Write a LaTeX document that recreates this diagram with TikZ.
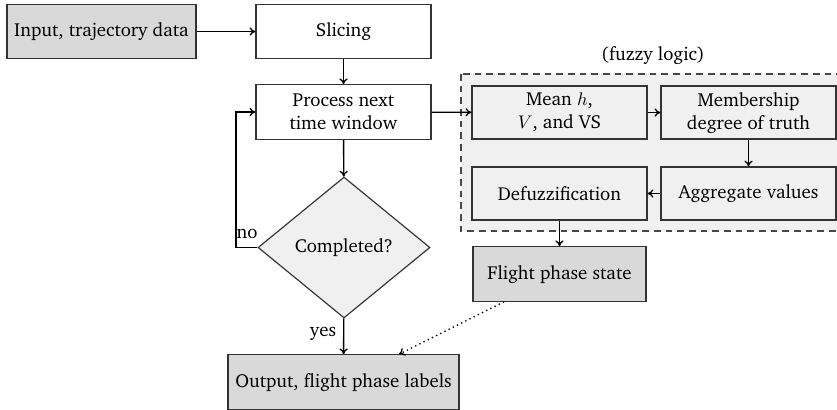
\documentclass[tikz,border=0pt]{standalone}
\usepackage[T1]{fontenc}
\usepackage{charter}
\usetikzlibrary{shapes.geometric,arrows.meta}
\definecolor{boxdark}{HTML}{D9D9D9}
\definecolor{boxlight}{HTML}{F0F0F0}
\definecolor{edgecol}{HTML}{333333}
\tikzset{
  base/.style={draw=edgecol, line width=0.7pt, align=center, inner sep=2pt, font=\fontsize{11.3}{13.8}\selectfont},
  plainbox/.style={base, fill=white, minimum width=105pt, minimum height=32.6pt},
  darkbox/.style={base, fill=boxdark, minimum height=32.6pt},
  fuzzbox/.style={base, fill=boxlight, minimum width=105pt, minimum height=31.8pt},
  decide/.style={base, shape=diamond, fill=boxlight, aspect=1.22, minimum width=103.2pt, minimum height=84.6pt, inner sep=0pt},
  conn/.style={line width=0.8pt, -{To[length=3.5pt,width=5pt]}},
  lbl/.style={font=\fontsize{11.3}{13.8}\selectfont, inner sep=0pt}
}
\begin{document}
\begin{tikzpicture}[x=0.6pt, y=-0.6pt]
\useasboundingbox (0,0) rectangle (837,409);
% fuzzy region
\draw[fill=boxlight, draw=edgecol!90, line width=0.7pt, dash pattern=on 4pt off 3pt] (461,74) rectangle (845,231);
\node[lbl] (fuzzylabel) at (653,55) {(fuzzy logic)};

\node[darkbox, minimum width=113.4pt] (input) at (101.5,31.5) {Input, trajectory data};
\node[plainbox] (slicing) at (343.5,31.5) {Slicing};
\node[plainbox] (process) at (343.5,112) {Process next\\time window};
\node[decide] (decision) at (344,247.5) {Completed?};
\node[darkbox, minimum width=138.6pt] (output) at (343.5,382) {Output, flight phase labels};
\node[fuzzbox] (mean) at (559.5,112.5) {Mean $h$,\\$V$, and VS};
\node[fuzzbox] (member) at (748.5,112.5) {Membership\\degree of truth};
\node[fuzzbox] (defuzz) at (559.5,193.5) {Defuzzification};
\node[fuzzbox] (aggregate) at (748.5,193.5) {Aggregate values};
\node[darkbox, minimum width=103.8pt] (flight) at (559.5,274) {Flight phase state};

\coordinate (loopbottom) at (236,247.5);
\coordinate (looptop) at (236,112);

\draw[conn] (input) -- (slicing);
\draw[conn] (slicing) -- (process);
\draw[conn] (process) -- (decision);
\draw[conn] (decision.west) -- (loopbottom) -- (looptop) -- (process.west);
\draw[conn] (decision) -- (output);
\draw[conn] (process) -- (mean);
\draw[conn] (mean) -- (member);
\draw[conn] (member) -- (aggregate);
\draw[conn] (aggregate) -- (defuzz);
\draw[conn] (defuzz) -- (flight);
\draw[conn, dotted] (flight) -- (output);

\node[lbl] (nolabel) at (247,234) {no};
\node[lbl] (yeslabel) at (323,334) {yes};
\end{tikzpicture}
\end{document}
